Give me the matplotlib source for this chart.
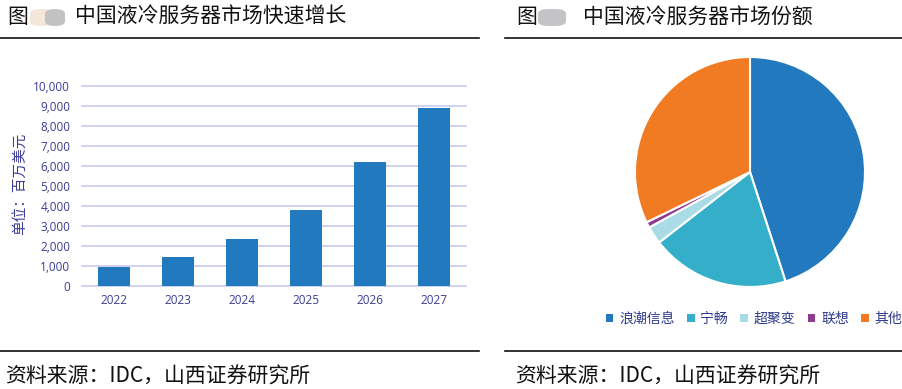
import matplotlib
matplotlib.use("Agg")
import matplotlib.pyplot as plt
from matplotlib.patches import FancyBboxPatch, Patch
from matplotlib.lines import Line2D

plt.rcParams['font.family'] = ['Noto Sans CJK SC', 'DejaVu Sans']

# ---- data ----
years = ["2022", "2023", "2024", "2025", "2026", "2027"]
market_size = [950, 1470, 2350, 3800, 6220, 8880]
yticks = [0, 1000, 2000, 3000, 4000, 5000, 6000, 7000, 8000, 9000, 10000]

vendors = ["浪潮信息", "宁畅", "超聚变", "联想", "其他"]
shares = [45.0, 19.5, 2.5, 0.8, 32.2]
pie_colors = ["#2379bd", "#35afc9", "#a9dce7", "#8e3a8e", "#f07b22"]

left_title = "中国液冷服务器市场快速增长"
right_title = "中国液冷服务器市场份额"
source = "资料来源：IDC，山西证券研究所"
ylabel = "单位：百万美元"

W, H = 902, 389
fig = plt.figure(figsize=(W / 100, H / 100), dpi=100)

def fx(x):
    return x / W

def fy(y):
    return 1 - y / H

tick_color = "#3a3c98"
grid_color = "#c9c9ef"

# ---- bar chart ----
ax = fig.add_axes([fx(82), fy(286), fx(384), 200 / H])
ax.bar(range(len(years)), market_size, width=0.5, color="#2379bd", zorder=3)
ax.set_xlim(-0.5, len(years) - 0.5)
ax.set_ylim(0, 10000)
ax.set_yticks(yticks)
ax.set_yticklabels([f"{v:,}" for v in yticks])
ax.set_xticks(range(len(years)))
ax.set_xticklabels(years)
for s in ax.spines.values():
    s.set_visible(False)
ax.yaxis.grid(True, color=grid_color, linewidth=1.2, zorder=0)
ax.tick_params(axis="both", length=0, labelsize=8.5, labelcolor=tick_color,
               labelfontfamily="Open Sans")
ax.tick_params(axis="y", pad=8.5)
ax.tick_params(axis="x", pad=6)
for gl in ax.get_ygridlines():
    gl.set_clip_on(False)
fig.text(fx(20), fy(184), ylabel, rotation=90, ha="center", va="center",
         fontsize=10.5, color=tick_color)

# ---- pie chart ----
r = 115
pax = fig.add_axes([fx(750 - r), fy(172 + r), fx(2 * r), 2 * r / H])
pax.pie(shares, colors=pie_colors, startangle=90, counterclock=False,
        wedgeprops=dict(edgecolor="white", linewidth=1.5))
pax.set_xlim(-1.0, 1.0)
pax.set_ylim(-1.0, 1.0)
pax.set_aspect("equal")

handles = [Patch(facecolor=c, edgecolor="none") for c in pie_colors]
leg = fig.legend(handles, vendors, loc="center", bbox_to_anchor=(fx(754), fy(319)),
                 ncol=5, frameon=False, handlelength=0.55, handleheight=0.55,
                 handletextpad=0.4, columnspacing=0.9, fontsize=10)
for t in leg.get_texts():
    t.set_color("#2e3a8c")

# ---- titles, rules, sources ----
for (x0, x1) in [(0, 479), (505, 902)]:
    fig.add_artist(Line2D([fx(x0), fx(x1)], [fy(38), fy(38)], color="#111111", lw=1.2))
    fig.add_artist(Line2D([fx(x0), fx(x1)], [fy(351), fy(351)], color="#111111", lw=1.2))

fig.text(fx(7), fy(17), "图", fontsize=15, ha="left", va="center", color="#111111")
fig.text(fx(75), fy(17), left_title, fontsize=15, ha="left", va="center", color="#111111")
fig.text(fx(516), fy(17), "图", fontsize=15, ha="left", va="center", color="#111111")
fig.text(fx(583), fy(17), right_title, fontsize=15, ha="left", va="center", color="#111111")

# blurred figure-number blobs
def blob(x, w, color):
    p = FancyBboxPatch((fx(x), fy(26)), fx(w), 17 / H,
                       boxstyle="round,pad=0,rounding_size=0.012",
                       transform=fig.transFigure, facecolor=color, edgecolor="none")
    fig.add_artist(p)

blob(30, 22, "#f3e6da")
blob(45, 20, "#c2c2c2")
blob(538, 28, "#c4c4c6")

fig.text(fx(5), fy(377), source, fontsize=15, ha="left", va="center", color="#111111")
fig.text(fx(515), fy(377), source, fontsize=15, ha="left", va="center", color="#111111")

fig.savefig("out.png", dpi=100)
